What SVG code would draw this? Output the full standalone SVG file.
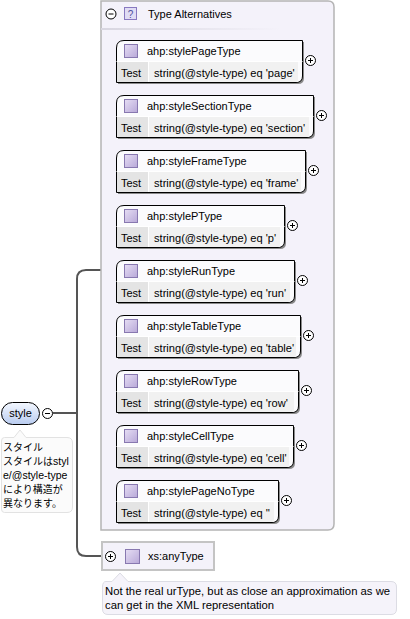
<svg xmlns="http://www.w3.org/2000/svg" width="410" height="619" viewBox="0 0 410 619">
<defs>
<linearGradient id="gStyle" x1="0" y1="0" x2="0" y2="1"><stop offset="0" stop-color="#f4f8ff"/><stop offset="1" stop-color="#b9ccf0"/></linearGradient>
<linearGradient id="gIcon" x1="0" y1="0" x2="1" y2="1"><stop offset="0" stop-color="#e6def4"/><stop offset="1" stop-color="#b8a8d8"/></linearGradient>
<linearGradient id="gSep" x1="0" y1="0" x2="1" y2="0"><stop offset="0" stop-color="#d8d6e0"/><stop offset="1" stop-color="#d8d6e0" stop-opacity="0"/></linearGradient>
</defs>
<style>
text{font-family:"Liberation Sans",Arial,sans-serif;font-size:11px;fill:#000}
.val{font-size:11.1px}
.cjk{font-family:"Noto Sans CJK JP","Liberation Sans",sans-serif;font-size:10px}
.lat{font-family:"Liberation Sans",Arial,sans-serif;font-size:10.5px}
.small{font-size:11.3px}
.conn{fill:none;stroke:#555;stroke-width:2}
.box{fill:#fbfbfd;stroke:#000;stroke-width:1}
.shadow{fill:#8a8a8a}
.tcell{fill:#e4e4e4}
.vcell{fill:#f1f1f1}
.icon{fill:url(#gIcon);stroke:#8878b0;stroke-width:1}
.pm{fill:#fff;stroke:#000;stroke-width:1}
.pml{stroke:#000;stroke-width:1}
</style>

<g id="connectors">
<path class="conn" d="M53,413 H77"/>
<path class="conn" d="M101,270 H86 Q77,270 77,279 V547 Q77,556 86,556 H105"/>
</g>

<g id="typeAlternatives">
<path d="M101,1 H328 Q334,1 334,7 V524 Q334,530 328,530 H101 Z" fill="#f4f2fa" stroke="#b4b4b4" stroke-width="1.5"/>
<rect x="101" y="28" width="180" height="2" fill="url(#gSep)"/>
<circle cx="111" cy="14" r="5" class="pm"/><path d="M108.5,14 H113.5" class="pml"/>
<rect x="124.5" y="7.5" width="12" height="12" fill="#e0dcf4" stroke="#8878c0"/>
<text x="130.5" y="17.5" text-anchor="middle" style="font-size:10px;fill:#5050a0">?</text>
<text x="148" y="18">Type Alternatives</text>
</g>

<g id="alt-stylePageType">
<path class="shadow" d="M118,50 Q118,42 126,42 H304 V78 Q304,84 298,84 H118 Z"/>
<path class="box" d="M116.5,48 Q116.5,40.5 124,40.5 H302.5 V76 Q302.5,82.5 296,82.5 H116.5 Z"/>
<rect x="117" y="62" width="31" height="20" class="tcell"/><rect x="148" y="62" width="150" height="20" class="vcell"/>
<path d="M116.5,61.5 H302.5 M148.5,62 V82" stroke="#fff" stroke-width="1"/>
<rect x="124.5" y="44.5" width="13" height="13" class="icon"/>
<text x="147" y="55">ahp:stylePageType</text>
<text x="121" y="77">Test</text><text class="val" x="154" y="77">string(@style-type) eq 'page'</text>
<circle cx="310.5" cy="60.5" r="5" class="pm"/><path d="M308,60.5 H313 M310.5,58 V63" class="pml"/>
</g>

<g id="alt-styleSectionType" transform="translate(0,55)">
<path class="shadow" d="M118,50 Q118,42 126,42 H315 V78 Q315,84 309,84 H118 Z"/>
<path class="box" d="M116.5,48 Q116.5,40.5 124,40.5 H313.5 V76 Q313.5,82.5 307,82.5 H116.5 Z"/>
<rect x="117" y="62" width="31" height="20" class="tcell"/><rect x="148" y="62" width="161" height="20" class="vcell"/>
<path d="M116.5,61.5 H313.5 M148.5,62 V82" stroke="#fff" stroke-width="1"/>
<rect x="124.5" y="44.5" width="13" height="13" class="icon"/>
<text x="147" y="55">ahp:styleSectionType</text>
<text x="121" y="77">Test</text><text class="val" x="154" y="77">string(@style-type) eq 'section'</text>
<circle cx="321.5" cy="60.5" r="5" class="pm"/><path d="M319,60.5 H324 M321.5,58 V63" class="pml"/>
</g>

<g id="alt-styleFrameType" transform="translate(0,110)">
<path class="shadow" d="M118,50 Q118,42 126,42 H307 V78 Q307,84 301,84 H118 Z"/>
<path class="box" d="M116.5,48 Q116.5,40.5 124,40.5 H305.5 V76 Q305.5,82.5 299,82.5 H116.5 Z"/>
<rect x="117" y="62" width="31" height="20" class="tcell"/><rect x="148" y="62" width="153" height="20" class="vcell"/>
<path d="M116.5,61.5 H305.5 M148.5,62 V82" stroke="#fff" stroke-width="1"/>
<rect x="124.5" y="44.5" width="13" height="13" class="icon"/>
<text x="147" y="55">ahp:styleFrameType</text>
<text x="121" y="77">Test</text><text class="val" x="154" y="77">string(@style-type) eq 'frame'</text>
<circle cx="313.5" cy="60.5" r="5" class="pm"/><path d="M311,60.5 H316 M313.5,58 V63" class="pml"/>
</g>

<g id="alt-stylePType" transform="translate(0,165)">
<path class="shadow" d="M118,50 Q118,42 126,42 H286 V78 Q286,84 280,84 H118 Z"/>
<path class="box" d="M116.5,48 Q116.5,40.5 124,40.5 H284.5 V76 Q284.5,82.5 278,82.5 H116.5 Z"/>
<rect x="117" y="62" width="31" height="20" class="tcell"/><rect x="148" y="62" width="132" height="20" class="vcell"/>
<path d="M116.5,61.5 H284.5 M148.5,62 V82" stroke="#fff" stroke-width="1"/>
<rect x="124.5" y="44.5" width="13" height="13" class="icon"/>
<text x="147" y="55">ahp:stylePType</text>
<text x="121" y="77">Test</text><text class="val" x="154" y="77">string(@style-type) eq 'p'</text>
<circle cx="292.5" cy="60.5" r="5" class="pm"/><path d="M290,60.5 H295 M292.5,58 V63" class="pml"/>
</g>

<g id="alt-styleRunType" transform="translate(0,220)">
<path class="shadow" d="M118,50 Q118,42 126,42 H296 V78 Q296,84 290,84 H118 Z"/>
<path class="box" d="M116.5,48 Q116.5,40.5 124,40.5 H294.5 V76 Q294.5,82.5 288,82.5 H116.5 Z"/>
<rect x="117" y="62" width="31" height="20" class="tcell"/><rect x="148" y="62" width="142" height="20" class="vcell"/>
<path d="M116.5,61.5 H294.5 M148.5,62 V82" stroke="#fff" stroke-width="1"/>
<rect x="124.5" y="44.5" width="13" height="13" class="icon"/>
<text x="147" y="55">ahp:styleRunType</text>
<text x="121" y="77">Test</text><text class="val" x="154" y="77">string(@style-type) eq 'run'</text>
<circle cx="302.5" cy="60.5" r="5" class="pm"/><path d="M300,60.5 H305 M302.5,58 V63" class="pml"/>
</g>

<g id="alt-styleTableType" transform="translate(0,275)">
<path class="shadow" d="M118,50 Q118,42 126,42 H302 V78 Q302,84 296,84 H118 Z"/>
<path class="box" d="M116.5,48 Q116.5,40.5 124,40.5 H300.5 V76 Q300.5,82.5 294,82.5 H116.5 Z"/>
<rect x="117" y="62" width="31" height="20" class="tcell"/><rect x="148" y="62" width="148" height="20" class="vcell"/>
<path d="M116.5,61.5 H300.5 M148.5,62 V82" stroke="#fff" stroke-width="1"/>
<rect x="124.5" y="44.5" width="13" height="13" class="icon"/>
<text x="147" y="55">ahp:styleTableType</text>
<text x="121" y="77">Test</text><text class="val" x="154" y="77">string(@style-type) eq 'table'</text>
<circle cx="308.5" cy="60.5" r="5" class="pm"/><path d="M306,60.5 H311 M308.5,58 V63" class="pml"/>
</g>

<g id="alt-styleRowType" transform="translate(0,330)">
<path class="shadow" d="M118,50 Q118,42 126,42 H300 V78 Q300,84 294,84 H118 Z"/>
<path class="box" d="M116.5,48 Q116.5,40.5 124,40.5 H298.5 V76 Q298.5,82.5 292,82.5 H116.5 Z"/>
<rect x="117" y="62" width="31" height="20" class="tcell"/><rect x="148" y="62" width="146" height="20" class="vcell"/>
<path d="M116.5,61.5 H298.5 M148.5,62 V82" stroke="#fff" stroke-width="1"/>
<rect x="124.5" y="44.5" width="13" height="13" class="icon"/>
<text x="147" y="55">ahp:styleRowType</text>
<text x="121" y="77">Test</text><text class="val" x="154" y="77">string(@style-type) eq 'row'</text>
<circle cx="306.5" cy="60.5" r="5" class="pm"/><path d="M304,60.5 H309 M306.5,58 V63" class="pml"/>
</g>

<g id="alt-styleCellType" transform="translate(0,385)">
<path class="shadow" d="M118,50 Q118,42 126,42 H295 V78 Q295,84 289,84 H118 Z"/>
<path class="box" d="M116.5,48 Q116.5,40.5 124,40.5 H293.5 V76 Q293.5,82.5 287,82.5 H116.5 Z"/>
<rect x="117" y="62" width="31" height="20" class="tcell"/><rect x="148" y="62" width="141" height="20" class="vcell"/>
<path d="M116.5,61.5 H293.5 M148.5,62 V82" stroke="#fff" stroke-width="1"/>
<rect x="124.5" y="44.5" width="13" height="13" class="icon"/>
<text x="147" y="55">ahp:styleCellType</text>
<text x="121" y="77">Test</text><text class="val" x="154" y="77">string(@style-type) eq 'cell'</text>
<circle cx="301.5" cy="60.5" r="5" class="pm"/><path d="M299,60.5 H304 M301.5,58 V63" class="pml"/>
</g>

<g id="alt-stylePageNoType" transform="translate(0,440)">
<path class="shadow" d="M118,50 Q118,42 126,42 H280 V78 Q280,84 274,84 H118 Z"/>
<path class="box" d="M116.5,48 Q116.5,40.5 124,40.5 H278.5 V76 Q278.5,82.5 272,82.5 H116.5 Z"/>
<rect x="117" y="62" width="31" height="20" class="tcell"/><rect x="148" y="62" width="126" height="20" class="vcell"/>
<path d="M116.5,61.5 H278.5 M148.5,62 V82" stroke="#fff" stroke-width="1"/>
<rect x="124.5" y="44.5" width="13" height="13" class="icon"/>
<text x="147" y="55">ahp:stylePageNoType</text>
<text x="121" y="77">Test</text><text class="val" x="154" y="77">string(@style-type) eq ''</text>
<circle cx="286.5" cy="60.5" r="5" class="pm"/><path d="M284,60.5 H289 M286.5,58 V63" class="pml"/>
</g>

<g id="style">
<rect x="1.5" y="402.5" width="38" height="22" rx="11" fill="url(#gStyle)" stroke="#000"/>
<text x="20.5" y="417" text-anchor="middle">style</text>
<circle cx="47.5" cy="413.5" r="5" class="pm"/><path d="M45,413.5 H50" class="pml"/>
<path d="M4.5,437.5 H14 L20,430 L26,437.5 H67 Q72.5,437.5 72.5,443 V507 Q72.5,512.5 67,512.5 H4.5 Q1.5,512.5 1.5,509 V441 Q1.5,437.5 4.5,437.5 Z" fill="#fbfbfb" stroke="#e2e2e2"/>
<text class="cjk" x="3" y="451">スタイル</text>
<text class="cjk" x="3" y="465">スタイルは<tspan class="lat">styl</tspan></text>
<text class="lat" x="3" y="479">e/@style-type</text>
<text class="cjk" x="3" y="493">により構造が</text>
<text class="cjk" x="3" y="507">異なります。</text>
</g>

<g id="anyType">
<rect x="102" y="542" width="112" height="28" fill="#f4f2fa" stroke="#c4c4c4" stroke-width="2"/>
<circle cx="110.5" cy="556.5" r="5" class="pm"/><path d="M108,556.5 H113 M110.5,554 V559" class="pml"/>
<rect x="125.5" y="549.5" width="14" height="14" class="icon"/>
<text x="148" y="560">xs:anyType</text>
<path d="M106,581.5 H112 L120,573 L128,581.5 H391 Q396.5,581.5 396.5,587 V609 Q396.5,614.5 391,614.5 H108 Q102.5,614.5 102.5,609 V587 Q102.5,581.5 106,581.5 Z" fill="#f5f3fa" stroke="#dcdce4"/>
<text class="small" x="105" y="595">Not the real urType, but as close an approximation as we</text>
<text class="small" x="105" y="609">can get in the XML representation</text>
</g>
</svg>
